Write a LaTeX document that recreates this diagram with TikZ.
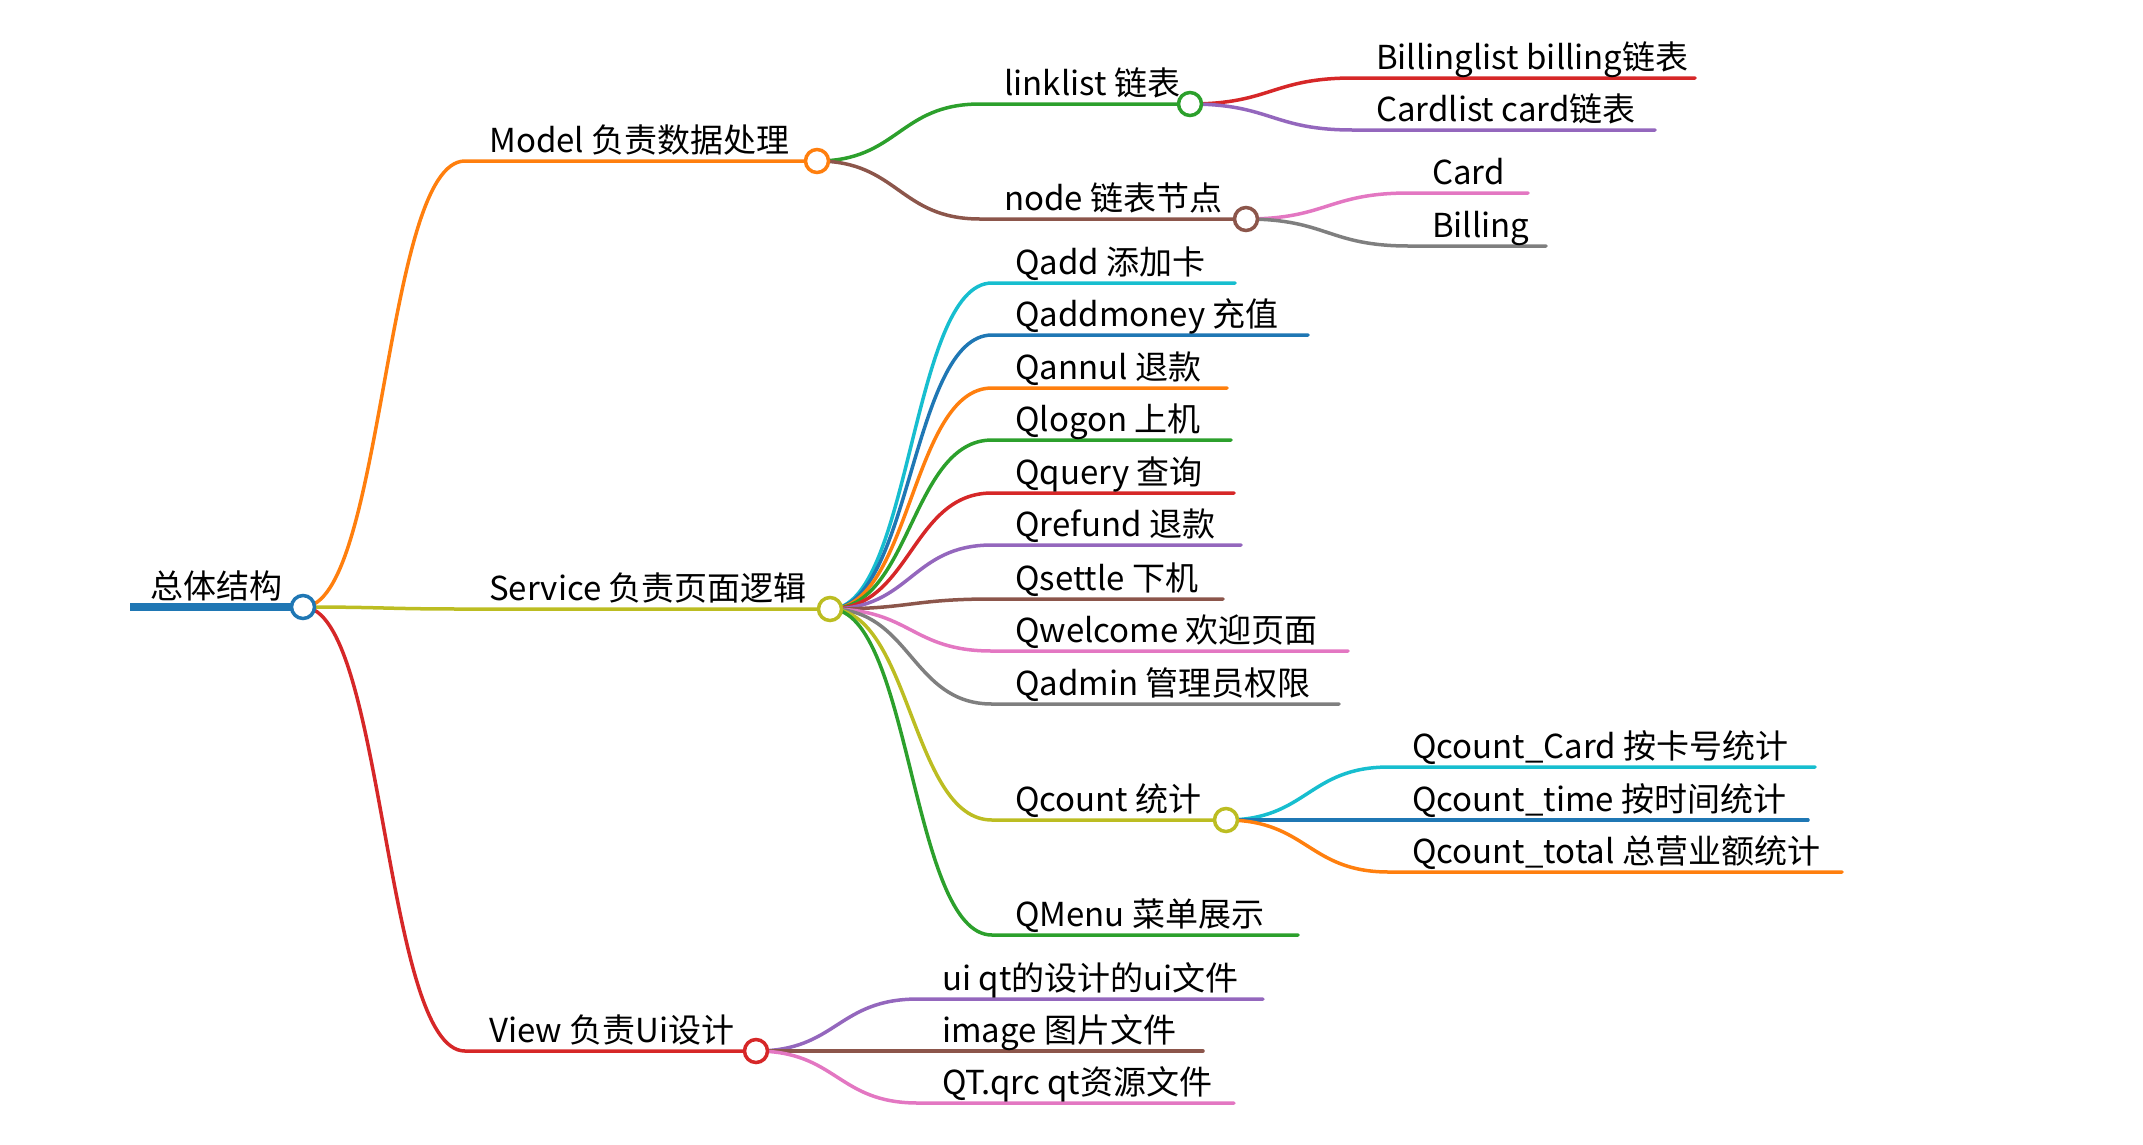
\documentclass[tikz,border=0pt]{standalone}
\usepackage{fontspec}
\setmainfont{Noto Sans CJK SC}
\definecolor{cblue}{HTML}{1F77B4}
\definecolor{corange}{HTML}{FF7F0E}
\definecolor{cgreen}{HTML}{2CA02C}
\definecolor{cred}{HTML}{D62728}
\definecolor{cpurple}{HTML}{9467BD}
\definecolor{cbrown}{HTML}{8C564B}
\definecolor{cpink}{HTML}{E377C2}
\definecolor{cgray}{HTML}{7F7F7F}
\definecolor{colive}{HTML}{BCBD22}
\definecolor{ccyan}{HTML}{17BECF}
\begin{document}
\begin{tikzpicture}[x=1pt,y=-1pt,
  edge/.style={line width=3.5pt, line cap=round},
  bez/.style={to path={.. controls ([xshift=81pt]\tikztostart) and ([xshift=-81pt]\tikztotarget) .. (\tikztotarget)}},
  knot/.style={circle, draw=#1, fill=white, line width=3.5pt, minimum size=23pt, inner sep=0pt},
  lbl/.style={anchor=base west, inner sep=0pt, font=\fontsize{33}{38}\selectfont}]
\useasboundingbox (0,0) rectangle (2143,1144);
% ---- coordinates
\coordinate (r0) at (130,607);   \coordinate (r) at (303,607);
\coordinate (ms) at (465,161);   \coordinate (m) at (817,161);
\coordinate (ss) at (465,609);   \coordinate (s) at (830,609);
\coordinate (vs) at (465,1051);  \coordinate (v) at (756,1051);
\coordinate (ls) at (980,104);   \coordinate (l) at (1190,104);
\coordinate (ns) at (980,219);   \coordinate (n) at (1246,219);
\coordinate (bls) at (1353,78);  \coordinate (ble) at (1695,78);
\coordinate (cls) at (1353,130); \coordinate (cle) at (1655,130);
\coordinate (cds) at (1409,193); \coordinate (cde) at (1528,193);
\coordinate (bis) at (1409,246); \coordinate (bie) at (1546,246);
\coordinate (q1s) at (992,283);  \coordinate (q1e) at (1235,283);
\coordinate (q2s) at (992,335);  \coordinate (q2e) at (1308,335);
\coordinate (q3s) at (992,388);  \coordinate (q3e) at (1227,388);
\coordinate (q4s) at (992,440);  \coordinate (q4e) at (1231,440);
\coordinate (q5s) at (992,493);  \coordinate (q5e) at (1234,493);
\coordinate (q6s) at (992,545);  \coordinate (q6e) at (1241,545);
\coordinate (q7s) at (992,599);  \coordinate (q7e) at (1223,599);
\coordinate (q8s) at (992,651);  \coordinate (q8e) at (1348,651);
\coordinate (q9s) at (992,704);  \coordinate (q9e) at (1339,704);
\coordinate (qcs) at (992,820);  \coordinate (qc) at (1226,820);
\coordinate (qms) at (992,935);  \coordinate (qme) at (1298,935);
\coordinate (k1s) at (1389,767); \coordinate (k1e) at (1815,767);
\coordinate (k2s) at (1389,820); \coordinate (k2e) at (1808,820);
\coordinate (k3s) at (1389,872); \coordinate (k3e) at (1842,872);
\coordinate (u1s) at (918,999);  \coordinate (u1e) at (1263,999);
\coordinate (u2s) at (918,1051); \coordinate (u2e) at (1203,1051);
\coordinate (u3s) at (918,1103); \coordinate (u3e) at (1234,1103);
% ---- connectors
\draw[cblue, line width=7.5pt] (r0) -- (r);
\draw[edge,corange] (r) to[bez] (ms) -- (m);
\draw[edge,colive] (r) to[bez] (ss) -- (s);
\draw[edge,cred] (r) to[bez] (vs) -- (v);
\draw[edge,cgreen] (m) to[bez] (ls) -- (l);
\draw[edge,cbrown] (m) to[bez] (ns) -- (n);
\draw[edge,cred] (l) to[bez] (bls) -- (ble);
\draw[edge,cpurple] (l) to[bez] (cls) -- (cle);
\draw[edge,cpink] (n) to[bez] (cds) -- (cde);
\draw[edge,cgray] (n) to[bez] (bis) -- (bie);
\draw[edge,ccyan] (s) to[bez] (q1s) -- (q1e);
\draw[edge,cblue] (s) to[bez] (q2s) -- (q2e);
\draw[edge,corange] (s) to[bez] (q3s) -- (q3e);
\draw[edge,cgreen] (s) to[bez] (q4s) -- (q4e);
\draw[edge,cred] (s) to[bez] (q5s) -- (q5e);
\draw[edge,cpurple] (s) to[bez] (q6s) -- (q6e);
\draw[edge,cbrown] (s) to[bez] (q7s) -- (q7e);
\draw[edge,cpink] (s) to[bez] (q8s) -- (q8e);
\draw[edge,cgray] (s) to[bez] (q9s) -- (q9e);
\draw[edge,colive] (s) to[bez] (qcs) -- (qc);
\draw[edge,cgreen] (s) to[bez] (qms) -- (qme);
\draw[edge,ccyan] (qc) to[bez] (k1s) -- (k1e);
\draw[edge,cblue] (qc) to[bez] (k2s) -- (k2e);
\draw[edge,corange] (qc) to[bez] (k3s) -- (k3e);
\draw[edge,cpurple] (v) to[bez] (u1s) -- (u1e);
\draw[edge,cbrown] (v) to[bez] (u2s) -- (u2e);
\draw[edge,cpink] (v) to[bez] (u3s) -- (u3e);
% ---- knots
\node[knot=cblue] (kr) at (r) {};
\node[knot=corange] (km) at (m) {};
\node[knot=colive] (ks) at (s) {};
\node[knot=cred] (kv) at (v) {};
\node[knot=cgreen] (kl) at (l) {};
\node[knot=cbrown] (kn) at (n) {};
\node[knot=colive] (kqc) at (qc) {};
% ---- labels
\node[lbl] (troot) at (150,598) {总体结构};
\node[lbl] (tm) at (489,152) {Model 负责数据处理};
\node[lbl] (ts) at (489,600) {Service 负责页面逻辑};
\node[lbl] (tv) at (489,1042) {View 负责Ui设计};
\node[lbl] (tl) at (1004,95) {linklist 链表};
\node[lbl] (tn) at (1004,210) {node 链表节点};
\node[lbl] (tbl) at (1376,69) {Billinglist billing链表};
\node[lbl] (tcl) at (1376,121) {Cardlist card链表};
\node[lbl] (tcd) at (1432,184) {Card};
\node[lbl] (tbi) at (1432,237) {Billing};
\node[lbl] (tq1) at (1015,274) {Qadd 添加卡};
\node[lbl] (tq2) at (1015,326) {Qaddmoney 充值};
\node[lbl] (tq3) at (1015,379) {Qannul 退款};
\node[lbl] (tq4) at (1015,431) {Qlogon 上机};
\node[lbl] (tq5) at (1015,484) {Qquery 查询};
\node[lbl] (tq6) at (1015,536) {Qrefund 退款};
\node[lbl] (tq7) at (1015,590) {Qsettle 下机};
\node[lbl] (tq8) at (1015,642) {Qwelcome 欢迎页面};
\node[lbl] (tq9) at (1015,695) {Qadmin 管理员权限};
\node[lbl] (tqc) at (1015,811) {Qcount 统计};
\node[lbl] (tqm) at (1015,926) {QMenu 菜单展示};
\node[lbl] (tk1) at (1412,758) {Qcount\_Card 按卡号统计};
\node[lbl] (tk2) at (1412,811) {Qcount\_time 按时间统计};
\node[lbl] (tk3) at (1412,863) {Qcount\_total 总营业额统计};
\node[lbl] (tu1) at (942,990) {ui qt的设计的ui文件};
\node[lbl] (tu2) at (942,1042) {image 图片文件};
\node[lbl] (tu3) at (942,1094) {QT.qrc qt资源文件};
\end{tikzpicture}
\end{document}
